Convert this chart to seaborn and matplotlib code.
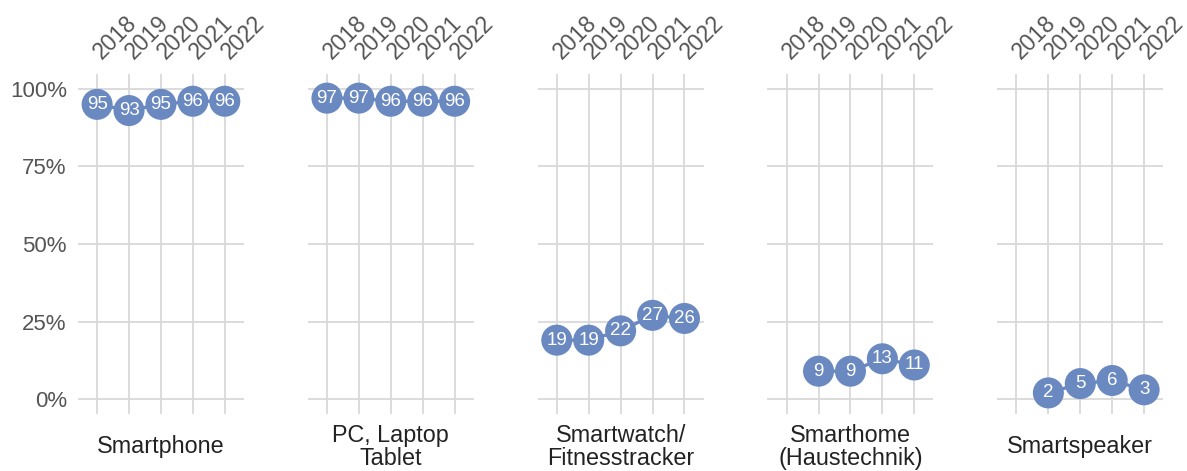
import numpy as np
import pandas as pd
import matplotlib.pyplot as plt
import seaborn as sns

# Data (share of respondents using the device, in %)
years = [2018, 2019, 2020, 2021, 2022]
devices = ['Smartphone', 'PC, Laptop\nTablet', 'Smartwatch/\nFitnesstracker',
           'Smarthome\n(Haustechnik)', 'Smartspeaker']
smartphone = [95, 93, 95, 96, 96]
pc_laptop = [97, 97, 96, 96, 96]
smartwatch = [19, 19, 22, 27, 26]
smarthome = [np.nan, 9, 9, 13, 11]
smartspeaker = [np.nan, 2, 5, 6, 3]

y_ticks = [0, 25, 50, 75, 100]
y_ticklabels = ['0%', '25%', '50%', '75%', '100%']

series = [smartphone, pc_laptop, smartwatch, smarthome, smartspeaker]
df = pd.concat([
    pd.DataFrame({'device': dev, 'year': years, 'value': vals})
    for dev, vals in zip(devices, series)
]).dropna()

blue = '#6a89c1'
grid_col = '#d9d9d9'
text_col = '#555555'

sns.set_theme(style='white')
plt.rcParams['font.family'] = ['Liberation Sans', 'DejaVu Sans']

fig, axes = plt.subplots(1, 5, figsize=(11.87, 4.71), dpi=100, sharey=True)
fig.subplots_adjust(left=0.0657, right=0.98, bottom=0.121, top=0.843, wspace=0.385)

for ax, dev in zip(axes, devices):
    d = df[df['device'] == dev]
    sns.lineplot(data=d, x='year', y='value', color=blue, linewidth=2.4,
                 ax=ax, zorder=3)
    sns.scatterplot(data=d, x='year', y='value', color=blue, s=500,
                    edgecolor='none', ax=ax, zorder=4)
    for yr, v in zip(d['year'], d['value']):
        ax.text(yr, v, f'{v:.0f}', color='white', ha='center', va='center',
                fontsize=13.5, zorder=5)

    ax.set_xlim(2017.4, 2022.6)
    ax.set_ylim(-4.8, 104.8)
    ax.set_xticks(years)
    ax.set_yticks(y_ticks)
    ax.xaxis.tick_top()
    ax.set_xticklabels([str(y) for y in years], rotation=45, ha='left',
                       va='center', rotation_mode='anchor',
                       fontsize=16.5, color=text_col)
    ax.tick_params(axis='x', length=0, pad=13)
    ax.tick_params(axis='y', length=0, pad=8, labelsize=16, labelcolor=text_col)
    ax.set_yticklabels(y_ticklabels)
    ax.set_xlabel('')
    ax.set_ylabel('')

    for yr in years:
        ax.axvline(yr, color=grid_col, linewidth=1.3, zorder=1)
    for yt in y_ticks:
        ax.axhline(yt, color=grid_col, linewidth=1.3, zorder=1)

    for s in ax.spines.values():
        s.set_visible(False)

    ax.text(0.5, -0.097, dev, transform=ax.transAxes, ha='center',
            va='center', fontsize=16.8, color='#222222', linespacing=1.0)

for ax in axes[1:]:
    ax.tick_params(axis='y', labelleft=False)

fig.savefig('out.png', dpi=100, facecolor='white')
